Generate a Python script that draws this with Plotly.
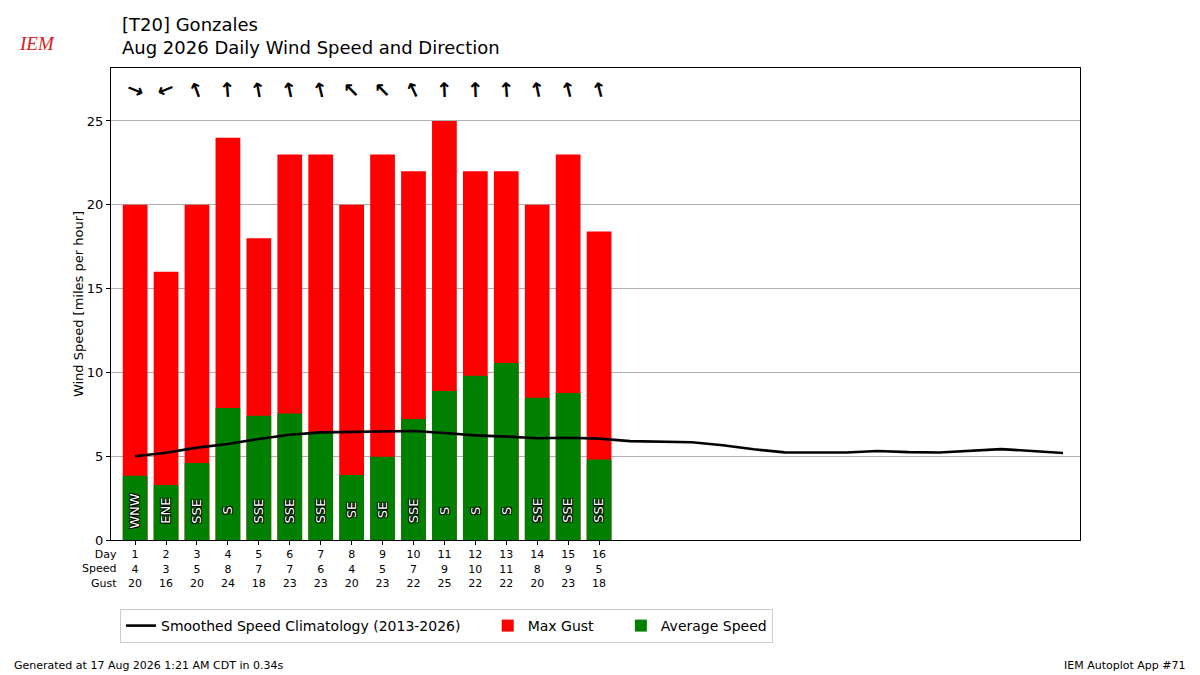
import plotly.graph_objects as go

# Daily observations, Aug 2026
days = list(range(1, 17))
avg_speed = [3.84, 3.28, 4.59, 7.88, 7.42, 7.54, 6.46, 3.88, 4.97, 7.22, 8.89, 9.8, 10.56, 8.49, 8.77, 4.81]
max_gust = [20, 16, 20, 24, 18, 23, 23, 20, 23, 22, 25, 22, 22, 20, 23, 18.4]
dir_deg = [292, 68, 160, 176, 170, 168, 166, 135, 135, 155, 178, 178, 176, 168, 166, 166]
dir_text = ["WNW", "ENE", "SSE", "S", "SSE", "SSE", "SSE", "SE", "SE", "SSE", "S", "S", "S", "SSE", "SSE", "SSE"]
speed_lbl = [4, 3, 5, 8, 7, 7, 6, 4, 5, 7, 9, 10, 11, 8, 9, 5]
gust_lbl = [20, 16, 20, 24, 18, 23, 23, 20, 23, 22, 25, 22, 22, 20, 23, 18]

# Smoothed climatology for every day of the month
clim_days = list(range(1, 32))
clim_speed = [5.0, 5.21, 5.51, 5.73, 6.03, 6.28, 6.42, 6.44, 6.5, 6.5, 6.38, 6.24, 6.17, 6.07, 6.1,
              6.05, 5.9, 5.85, 5.83, 5.65, 5.41, 5.23, 5.23, 5.22, 5.31, 5.24, 5.22, 5.3, 5.42, 5.31, 5.19]

FONT = "DejaVu Sans"
L, R, T, B = 111, 1080, 68, 540
PAD = "&nbsp;" * 5


def px_x(x):
    return (x - L) / (R - L)


def px_y(y):
    return (B - y) / (B - T)


traces = [
    go.Scatter(x=clim_days, y=clim_speed, mode="lines", name="Smoothed Speed Climatology (2013-2026)" + PAD,
               line=dict(color="black", width=2.6)),
    go.Bar(x=days, y=max_gust, width=0.8, name="Max Gust" + PAD, marker=dict(color="#ff0000", line_width=0)),
    go.Bar(x=days, y=avg_speed, width=0.8, name="Average Speed", marker=dict(color="#008000", line_width=0)),
]

annotations = []
# wind direction arrows along the top
for d, deg in zip(days, dir_deg):
    annotations.append(dict(x=d, y=26.85, xref="x", yref="y", text="↑", showarrow=False,
                            textangle=(deg + 180) % 360,
                            font=dict(family=FONT, size=20, color="black", weight=600)))
# compass text inside bars
outline = "-1px -1px 0 #000, 1px -1px 0 #000, -1px 1px 0 #000, 1px 1px 0 #000"
for d, t in zip(days, dir_text):
    annotations.append(dict(x=d, y=1.75, xref="x", yref="y", text=t, showarrow=False, textangle=-90,
                            font=dict(family=FONT, size=13, color="white", shadow=outline)))

annotations += [
    dict(x=px_x(119), y=px_y(569), xref="paper", yref="paper", xanchor="right", yanchor="middle",
         text="Day<br>Speed<br>Gust", align="right", showarrow=False,
         font=dict(family=FONT, size=11, color="black")),
    dict(x=px_x(120), y=px_y(25), xref="paper", yref="paper", xanchor="left", yanchor="middle",
         text="[T20] Gonzales", showarrow=False, font=dict(family=FONT, size=18, color="black")),
    dict(x=px_x(120), y=px_y(48), xref="paper", yref="paper", xanchor="left", yanchor="middle",
         text="Aug 2026 Daily Wind Speed and Direction", showarrow=False,
         font=dict(family=FONT, size=18, color="black")),
    dict(x=px_x(12), y=px_y(665), xref="paper", yref="paper", xanchor="left", yanchor="middle",
         text="Generated at 17 Aug 2026 1:21 AM CDT in 0.34s", showarrow=False,
         font=dict(family=FONT, size=11, color="black")),
    dict(x=px_x(1188), y=px_y(665), xref="paper", yref="paper", xanchor="right", yanchor="middle",
         text="IEM Autoplot App #71", showarrow=False, font=dict(family=FONT, size=11, color="black")),
    dict(x=px_x(37), y=px_y(44), xref="paper", yref="paper", xanchor="center", yanchor="middle",
         text="<i>IEM</i>", showarrow=False, font=dict(family="Liberation Serif", size=19, color="#d42020")),
]

layout = go.Layout(
    width=1200, height=675,
    margin=dict(l=L, r=1200 - R, t=T, b=675 - B),
    paper_bgcolor="white", plot_bgcolor="white",
    barmode="overlay",
    font=dict(family=FONT, color="black"),
    xaxis=dict(range=[0.22, 31.55], tickmode="array", tickvals=days,
               ticktext=[f"{d}<br>{s}<br>{g}" for d, s, g in zip(days, speed_lbl, gust_lbl)],
               tickfont=dict(size=11), ticks="outside", ticklen=4, tickcolor="black",
               showgrid=False, zeroline=False, showline=True, linecolor="black", mirror=True),
    yaxis=dict(range=[0, 28.16], tickvals=[0, 5, 10, 15, 20, 25], tickfont=dict(size=13),
               ticks="outside", ticklen=4, tickcolor="black",
               showgrid=True, gridcolor="#b0b0b0", gridwidth=1, zeroline=False,
               showline=True, linecolor="black", mirror=True,
               title=dict(text="Wind Speed [miles per hour]", font=dict(size=13), standoff=0)),
    legend=dict(orientation="h", x=px_x(120), y=px_y(609), xanchor="left", yanchor="top",
                bordercolor="#cccccc", borderwidth=1, font=dict(size=14), traceorder="normal"),
    annotations=annotations,
)

fig = go.Figure(data=traces, layout=layout)
fig.write_html("out.html", config={"displayModeBar": False},
               post_script="document.body.style.margin='0';")
